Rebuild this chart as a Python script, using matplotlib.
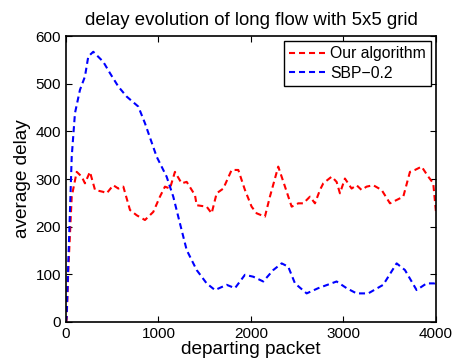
import numpy as np
import matplotlib
matplotlib.use("Agg")
import matplotlib.pyplot as plt

plt.rcParams['font.family'] = ['Liberation Sans', 'DejaVu Sans']

# red: our algorithm (departing packet, average delay)
ours_x = [0, 7, 25, 62, 116, 170, 205, 259, 314, 403, 440, 511, 566, 620, 692, 764, 854,
          944, 1016, 1070, 1124, 1178, 1250, 1305, 1395, 1413, 1521, 1575, 1629, 1701,
          1791, 1863, 1935, 2007, 2062, 2151, 2205, 2295, 2368, 2440, 2512, 2566, 2638,
          2692, 2746, 2782, 2873, 2926, 2962, 3016, 3088, 3142, 3196, 3250, 3322, 3413,
          3503, 3575, 3647, 3719, 3773, 3845, 3917, 3971, 4000]
ours_y = [0, 4, 109, 263, 315, 305, 291, 315, 277, 273, 270, 287, 280, 284, 235, 224, 214,
          231, 263, 284, 280, 315, 291, 294, 266, 245, 242, 228, 270, 280,
          319, 319, 277, 242, 228, 221, 263, 326, 284, 242, 249, 249, 263,
          249, 277, 291, 305, 294, 270, 301, 280, 287, 277, 284, 287, 277,
          249, 256, 263, 315, 319, 326, 305, 291, 231]

# blue: SBP-0.2
sbp_x = [0, 7, 25, 62, 97, 151, 205, 241, 295, 403, 476, 566, 656, 782, 854, 980, 1088,
         1160, 1232, 1305, 1413, 1521, 1611, 1737, 1827, 1935, 2025, 2133, 2241, 2332,
         2403, 2476, 2602, 2728, 2926, 3034, 3142, 3268, 3430, 3575, 3665, 3791, 3899,
         3989, 4000]
sbp_y = [0, 11, 124, 347, 438, 487, 515, 557, 567, 546, 522, 494, 473, 452, 417, 347, 305,
         263, 207, 151, 109, 81, 67, 78, 71, 99, 95, 85, 109, 123,
         116, 81, 60, 71, 85, 71, 60, 60, 78, 123, 109, 67, 81,
         81, 82]

fig = plt.figure(figsize=(4.56, 3.64), dpi=100)
ax = fig.add_axes([0.1447, 0.1154, 0.8113, 0.7856])

ax.plot(ours_x, ours_y, color='red', linestyle='--', linewidth=1.5, dashes=(2.9, 1.9),
        label='Our algorithm')
ax.plot(sbp_x, sbp_y, color='blue', linestyle='--', linewidth=1.5, dashes=(2.9, 1.9),
        label='SBP\u22120.2')

ax.set_xlim(0, 4000)
ax.set_ylim(0, 600)
ax.set_xticks([0, 1000, 2000, 3000, 4000])
ax.set_yticks([0, 100, 200, 300, 400, 500, 600])
ax.tick_params(direction='in', top=True, right=True, labelsize=11, length=4)
for s in ax.spines.values():
    s.set_linewidth(1.2)

ax.set_xlabel('departing packet', fontsize=13.7, labelpad=0)
ax.set_ylabel('average delay', fontsize=13.7, labelpad=3)
ax.set_title('delay evolution of long flow with 5x5 grid', fontsize=13.4, pad=8)

leg = ax.legend(loc='upper right', fontsize=11.3, fancybox=False, framealpha=1,
                edgecolor='black', borderaxespad=0.3, handlelength=2.3,
                handletextpad=0.3, borderpad=0.35, labelspacing=0.3)
leg.get_frame().set_linewidth(1.0)

fig.savefig('out.png', dpi=100)
